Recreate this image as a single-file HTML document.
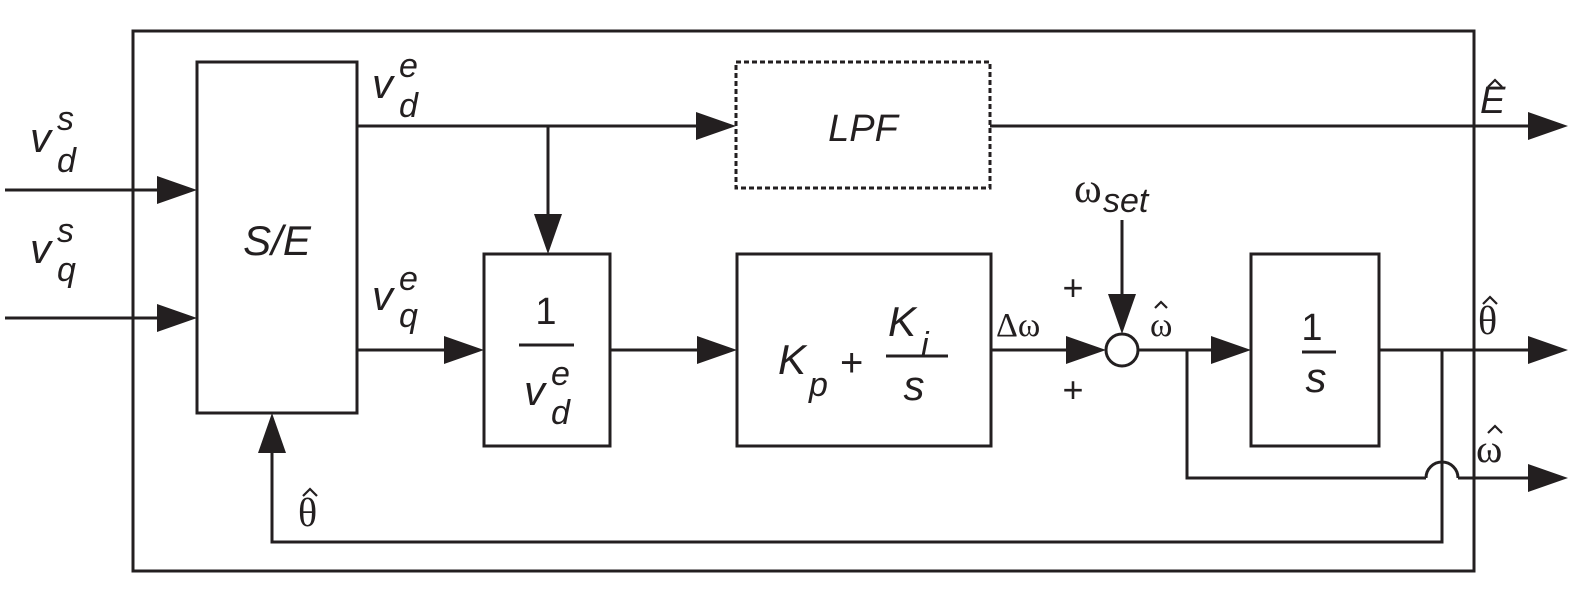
<!DOCTYPE html>
<html><head><meta charset="utf-8"><style>
html,body{margin:0;padding:0;background:#fff;}
svg{display:block;}
.s{font-family:"Liberation Sans",sans-serif;font-style:italic;fill:#231f20;}
.g{font-family:"Liberation Serif",serif;fill:#231f20;}
.n{font-family:"Liberation Sans",sans-serif;fill:#231f20;}
</style></head><body>
<svg width="1577" height="595" viewBox="0 0 1577 595" xmlns="http://www.w3.org/2000/svg">
<g fill="none" stroke="#231f20" stroke-width="3">
<rect x="133" y="31" width="1341" height="540"/>
<rect x="197" y="62" width="160" height="351"/>
<rect x="736" y="62" width="254" height="126" stroke-dasharray="5,3"/>
<rect x="484" y="254" width="126" height="192"/>
<rect x="737" y="254" width="254" height="192"/>
<rect x="1251" y="254" width="128" height="192"/>
<circle cx="1122" cy="350" r="16" fill="#fff"/>
<path d="M5 190H160"/>
<path d="M5 318H160"/>
<path d="M357 126H700"/>
<path d="M548 126V218"/>
<path d="M990 126H1530"/>
<path d="M357 350H446"/>
<path d="M610 350H700"/>
<path d="M991 350H1068"/>
<path d="M1122 220V300"/>
<path d="M1138 350H1212"/>
<path d="M1187 350V478H1426"/>
<path d="M1426 478A16 16 0 0 1 1458 478"/>
<path d="M1458 478H1530"/>
<path d="M1379 350H1530"/>
<path d="M1442 350V542H272V450"/>
<path d="M519 345H574"/>
<path d="M1302 352H1336"/>
<path d="M886 356H948"/>
</g>
<g fill="#231f20">
<polygon points="197,190 157,176 157,204"/>
<polygon points="197,318 157,304 157,332"/>
<polygon points="736,126 696,112 696,140"/>
<polygon points="548,254 534,214 562,214"/>
<polygon points="1568,126 1528,112 1528,140"/>
<polygon points="484,350 444,336 444,364"/>
<polygon points="737,350 697,336 697,364"/>
<polygon points="1106,350 1066,336 1066,364"/>
<polygon points="1122,334 1108,294 1136,294"/>
<polygon points="1251,350 1211,336 1211,364"/>
<polygon points="1568,350 1528,336 1528,364"/>
<polygon points="1568,478 1528,464 1528,492"/>
<polygon points="272,413 258,453 286,453"/>
</g>
<!-- hats -->
<g fill="none" stroke="#231f20" stroke-width="2.2">
<path d="M1155 308L1161 302L1167 308"/>
<path d="M1488 87L1495 80L1502 87"/>
<path d="M1483 304L1490 297L1497 304"/>
<path d="M1488 433L1495 426L1502 433"/>
<path d="M303 496L310 489L317 496"/>
</g>
<text class="s" x="30" y="152" font-size="42">v</text>
<text class="s" x="57" y="130" font-size="34">s</text>
<text class="s" x="57" y="172" font-size="34">d</text>
<text class="s" x="30" y="263" font-size="42">v</text>
<text class="s" x="57" y="242" font-size="34">s</text>
<text class="s" x="57" y="281" font-size="34">q</text>
<text class="s" x="372" y="98" font-size="42">v</text>
<text class="s" x="399" y="77" font-size="34">e</text>
<text class="s" x="399" y="117" font-size="34">d</text>
<text class="s" x="372" y="310" font-size="42">v</text>
<text class="s" x="399" y="290" font-size="34">e</text>
<text class="s" x="399" y="327" font-size="34">q</text>
<text class="s" x="277" y="255" font-size="42" text-anchor="middle">S/E</text>
<text class="n" x="546" y="324" font-size="38" text-anchor="middle">1</text>
<text class="s" x="524" y="405" font-size="42">v</text>
<text class="s" x="551" y="385" font-size="34">e</text>
<text class="s" x="551" y="424" font-size="34">d</text>
<text class="s" x="863" y="141" font-size="38" text-anchor="middle">LPF</text>
<text class="s" x="778" y="374" font-size="42">K</text>
<text class="s" x="809" y="396" font-size="34">p</text>
<text class="n" x="840" y="376" font-size="40">+</text>
<text class="s" x="888" y="336" font-size="42">K</text>
<text class="s" x="921" y="356" font-size="34">i</text>
<text class="s" x="914" y="400" font-size="42" text-anchor="middle">s</text>
<text class="g" x="996" y="336" font-size="34">Δω</text>
<text class="n" x="1073" y="300" font-size="36" text-anchor="middle">+</text>
<text class="n" x="1073" y="402" font-size="36" text-anchor="middle">+</text>
<text class="g" x="1074" y="202" font-size="42">ω</text>
<text class="s" x="1103" y="212" font-size="34">set</text>
<text class="g" x="1150" y="336" font-size="34">ω</text>
<text class="n" x="1312" y="340" font-size="38" text-anchor="middle">1</text>
<text class="s" x="1316" y="392" font-size="42" text-anchor="middle">s</text>
<text class="s" x="1480" y="113" font-size="38">E</text>
<text class="g" x="1478" y="334" font-size="40">θ</text>
<text class="g" x="1476" y="462" font-size="40">ω</text>
<text class="g" x="298" y="526" font-size="40">θ</text>
</svg>
</body></html>
